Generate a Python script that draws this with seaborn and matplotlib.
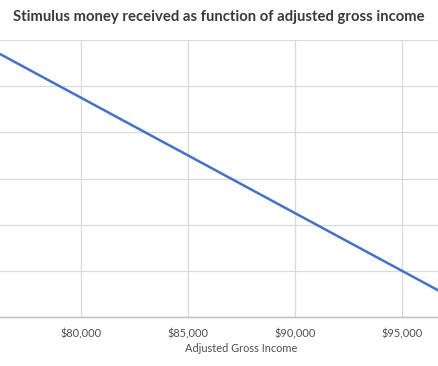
import matplotlib
matplotlib.use("Agg")
import matplotlib.pyplot as plt
import matplotlib.ticker as mticker
import pandas as pd
import seaborn as sns

# Values (line is straight: $1,200 minus 5% above $75k)
income = [75000, 80000, 85000, 90000, 95000, 99000]
stimulus = [1200, 950, 700, 450, 200, 0]
x_ticks = [80000, 85000, 90000, 95000]

df = pd.DataFrame({"income": income, "stimulus": stimulus})

sns.set_style("whitegrid")
plt.rcParams["font.family"] = ["Lato", "DejaVu Sans"]

fig = plt.figure(figsize=(4.38, 3.66), dpi=100)
ax = fig.add_axes([0, 49 / 366, 1, 277 / 366])

sns.lineplot(data=df, x="income", y="stimulus", ax=ax, color="#4472C4", linewidth=1.8)

# The picture is a crop of a wider Excel chart, so limits cut the line
ax.set_xlim(76215, 96682)
ax.set_ylim(0, 1200)
ax.set_xticks(x_ticks)
ax.xaxis.set_major_formatter(mticker.StrMethodFormatter("${x:,.0f}"))
ax.set_yticks([0, 200, 400, 600, 800, 1000, 1200])
ax.set_yticklabels([])
ax.tick_params(axis="x", colors="#4D4D4D", labelsize=7.9, length=0, pad=8)
ax.tick_params(axis="y", length=0)

ax.grid(True, color="#D9D9D9", linewidth=0.9)
for side in ["top", "left", "right"]:
    ax.spines[side].set_visible(False)
ax.spines["bottom"].set_color("#BFBFBF")
ax.spines["bottom"].set_linewidth(1.0)

ax.set_xlabel("")
ax.set_ylabel("")
fig.text(241 / 438, 1 - 349 / 366, "Adjusted Gross Income", ha="center", va="center",
         color="#4D4D4D", fontsize=7.9)
fig.text(0.5, 1 - 17 / 366, "Stimulus money received as function of adjusted gross income",
         ha="center", va="center", color="#3A3A3A", fontsize=10.7, fontweight="bold")

fig.savefig("out.png", dpi=100)
